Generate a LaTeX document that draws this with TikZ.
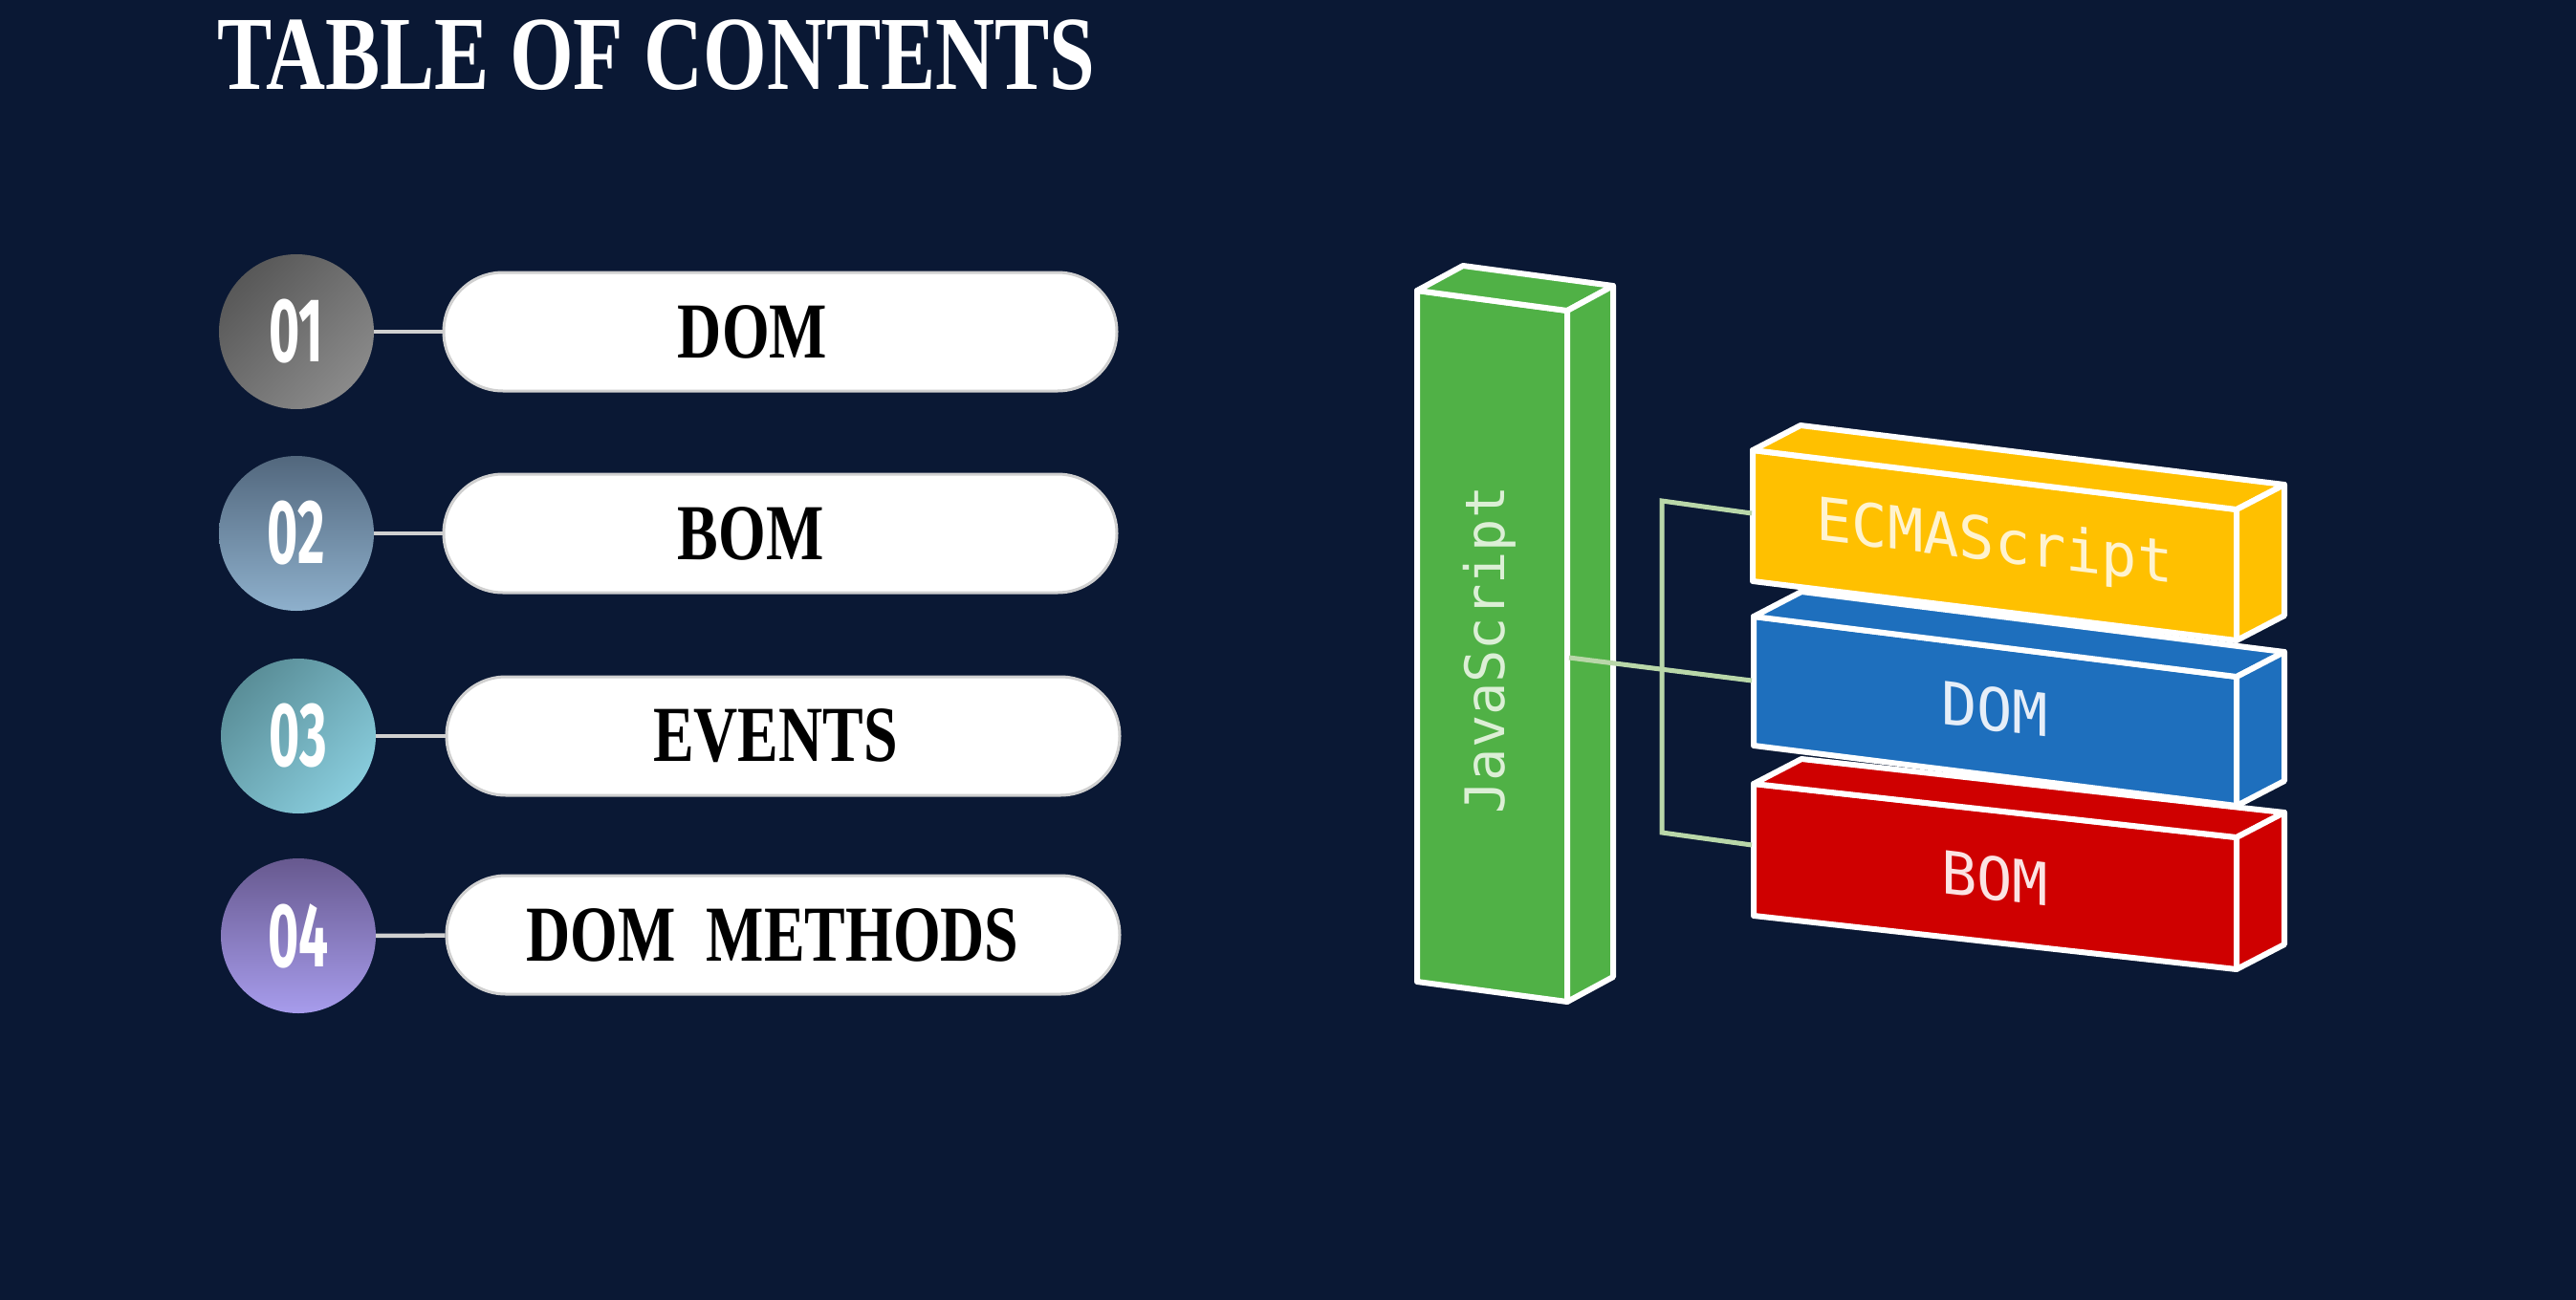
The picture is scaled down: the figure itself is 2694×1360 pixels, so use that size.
\documentclass[tikz,border=0pt]{standalone}
\usepackage{fontspec}
\usepackage{graphicx}
\setmainfont{Liberation Serif}
\newfontfamily\numfont{Fira Sans}
\newfontfamily\monofont{DejaVu Sans Mono}
\definecolor{bg}{HTML}{0A1834}
\definecolor{jsgreen}{HTML}{50B146}
\definecolor{ecyellow}{HTML}{FFC000}
\definecolor{domblue}{HTML}{1E6FBD}
\definecolor{bomred}{HTML}{CF0000}
\definecolor{linkgreen}{HTML}{B9D7A9}
\definecolor{pillline}{HTML}{D0D0D0}
\definecolor{jstext}{HTML}{DCEFD6}
\definecolor{ectext}{HTML}{FFF3CF}
\definecolor{domtext}{HTML}{E6EEF8}
\definecolor{bomtext}{HTML}{FBE3E3}
\definecolor{cAa}{HTML}{585858}
\definecolor{cAb}{HTML}{8A8A8A}
\definecolor{cBa}{HTML}{52677D}
\definecolor{cBb}{HTML}{8EB0CC}
\definecolor{cCa}{HTML}{5A8E98}
\definecolor{cCb}{HTML}{88CCDC}
\definecolor{cDa}{HTML}{67598F}
\definecolor{cDb}{HTML}{A79CEC}
% #1 fill, #2 x, #3 y, #4 width, #5 slope drop, #6 height, #7 depth dx, #8 depth up
\newcommand\mycuboid[8]{%
  \filldraw[cubeedge, fill=#1] (#2,#3) -- ++(#4,#5) -- ++(0,#6) -- ++(-#4,-#5) -- cycle;
  \filldraw[cubeedge, fill=#1] (#2,#3) -- ++(#7,-#8) -- ++(#4,#5) -- ++(-#7,#8) -- cycle;
  \filldraw[cubeedge, fill=#1] ({#2+#4},{#3+#5}) -- ++(#7,-#8) -- ++(0,#6) -- ++(-#7,#8) -- cycle;
}
\begin{document}
\begin{tikzpicture}[x=1pt,y=-1pt,
  cubeedge/.style={draw=white, line width=6pt, line join=round},
  numcircle/.style={circle, minimum size=162pt, inner sep=0pt, text=white,
    font=\numfont\bfseries\fontsize{95}{95}\selectfont},
  pill/.style={rectangle, rounded corners=62pt, minimum width=704pt, minimum height=124pt,
    fill=white, draw=pillline, line width=3pt},
  pilltext/.style={text=black, inner sep=0pt, font=\bfseries\fontsize{83}{83}\selectfont},
  tie/.style={draw=pillline, line width=4.5pt},
  link/.style={draw=linkgreen, line width=5pt, line join=miter},
  facetext/.style={font=\monofont\fontsize{62}{62}\selectfont, inner sep=0pt, yslant=-0.12}
]
\fill[bg] (0,0) rectangle (2694,1360);
\useasboundingbox (0,0) rectangle (2694,1360);

% title
\node[anchor=west, text=white, inner sep=0pt, font=\bfseries\fontsize{110}{110}\selectfont]
  (title) at (227,58) {\scalebox{0.78}[1]{TABLE OF CONTENTS}};

% numbered items
\node[numcircle, top color=cAa, bottom color=cAb, shading angle=45] (c1) at (310,347) {\scalebox{0.58}[1]{01}};
\node[numcircle, top color=cBa, bottom color=cBb] (c2) at (310,558) {\scalebox{0.58}[1]{02}};
\node[numcircle, top color=cCa, bottom color=cCb, shading angle=45] (c3) at (312,770) {\scalebox{0.58}[1]{03}};
\node[numcircle, top color=cDa, bottom color=cDb] (c4) at (312,979) {\scalebox{0.58}[1]{04}};

\node[pill] (p1) at (816,347) {};
\node[pill] (p2) at (816,558) {};
\node[pill] (p3) at (819,770) {};
\node[pill] (p4) at (819,978) {};

\draw[tie] (c1) -- (p1);
\draw[tie] (c2) -- (p2);
\draw[tie] (c3) -- (p3);
\draw[tie] (c4) -- (p4);

\node[pilltext] (t1) at (787,347) {\scalebox{0.77}[1]{DOM}};
\node[pilltext] (t2) at (785,558) {\scalebox{0.77}[1]{BOM}};
\node[pilltext] (t3) at (811,770) {\scalebox{0.77}[1]{EVENTS}};
\node[pilltext] (t4) at (808,978) {\scalebox{0.77}[1]{DOM\ \ METHODS}};

% 3D blocks
\mycuboid{jsgreen}{1482}{304}{157}{21}{723}{48}{26}
\mycuboid{ecyellow}{1833}{471}{506}{62}{137}{50}{26}
\mycuboid{domblue}{1834}{645}{505}{63}{135}{50}{26}
\mycuboid{bomred}{1834}{820}{505}{56}{138}{50}{26}

\node[inner sep=0pt, text=jstext, rotate=90, font=\monofont\fontsize{57}{57}\selectfont] (js) at (1558,680) {JavaScript};
\node[facetext, text=ectext] (ecma) at (2086,570) {ECMAScript};
\node[facetext, text=domtext] (dom) at (2086,742) {DOM};
\node[facetext, text=bomtext] (bom) at (2086,919) {BOM};

% connectors
\coordinate (jsR) at (1641,688);
\coordinate (vtop) at (1738,524);
\coordinate (vbot) at (1738,871);
\coordinate (ecmaL) at (1832,537);
\coordinate (domL) at (1832,712);
\coordinate (bomL) at (1832,884);
\draw[link] (ecmaL) -- (vtop) -- (vbot) -- (bomL);
\draw[link] (jsR) -- (domL);
\end{tikzpicture}
\end{document}
